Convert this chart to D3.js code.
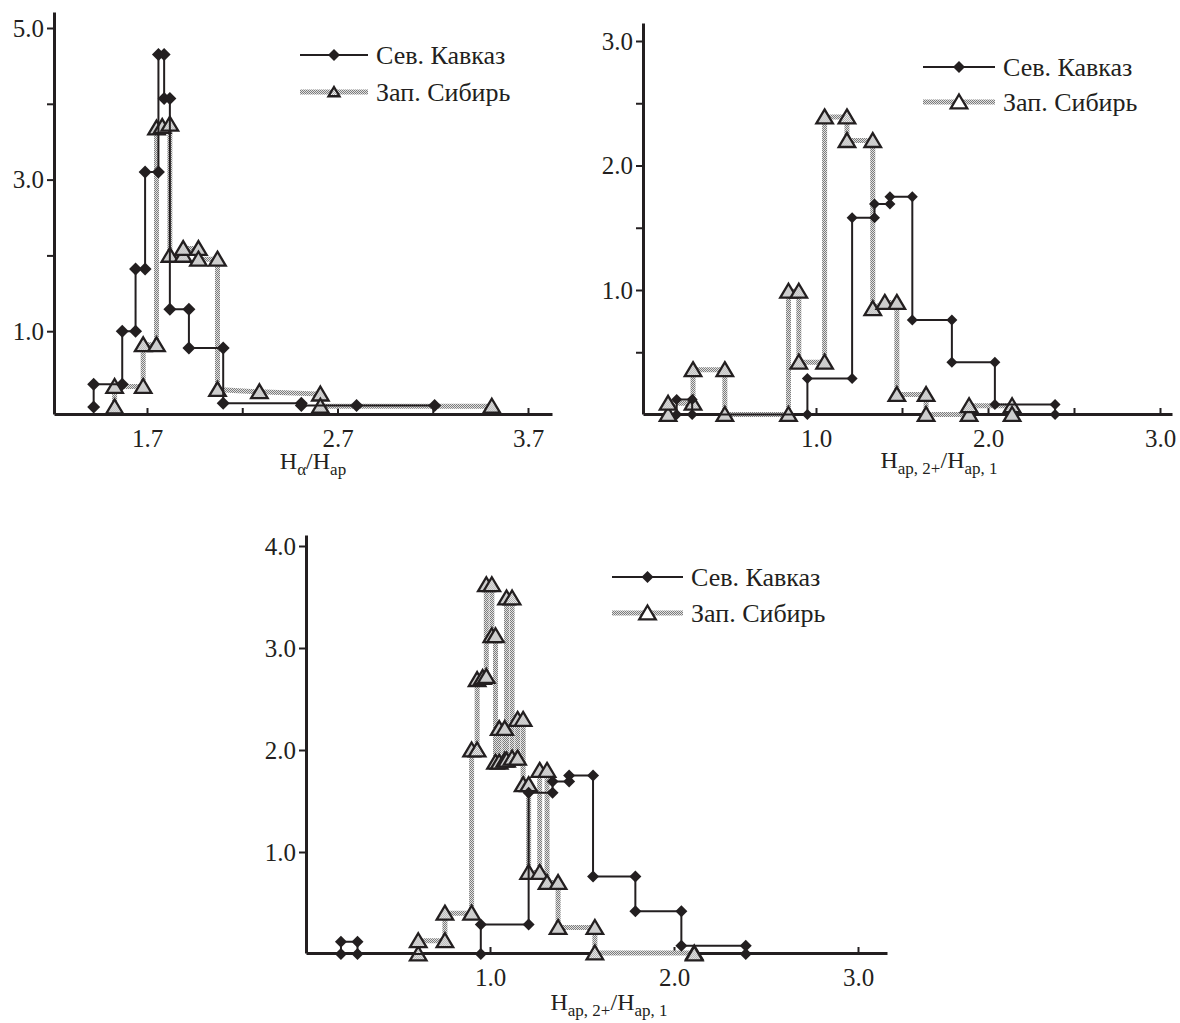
<!DOCTYPE html>
<html>
<head>
<meta charset="utf-8">
<script src="https://cdn.jsdelivr.net/npm/d3@7"></script>
<style>
    body { margin: 0; background: #ffffff; }
    text { font-family: "Liberation Serif", "DejaVu Serif", serif; fill: #231f20; }
</style>
</head>
<body>
<div class="AppBody"></div>
<script>

const series_names = ["Сев. Кавказ", "Зап. Сибирь"];

// panel 1: H_alpha / H_ap
const kavkaz_alpha_x = [1.42, 1.42, 1.57, 1.57, 1.64, 1.64, 1.69, 1.69, 1.76, 1.76, 1.79, 1.79, 1.82, 1.82,
    1.92, 1.92, 2.10, 2.10, 2.51, 2.51, 2.80, 3.21];
const kavkaz_alpha_y = [0, 0.30, 0.30, 1.0, 1.0, 1.82, 1.82, 3.10, 3.10, 4.65, 4.65, 4.07, 4.07, 1.29,
    1.29, 0.78, 0.78, 0.05, 0.05, 0.02, 0.02, 0.02];
const sibir_alpha_x = [1.53, 1.53, 1.68, 1.68, 1.75, 1.75, 1.78, 1.82, 1.82, 1.89, 1.89, 1.97, 1.97,
    2.07, 2.07, 2.29, 2.61, 2.61, 3.51];
const sibir_alpha_y = [0, 0.27, 0.27, 0.82, 0.82, 3.68, 3.70, 3.73, 2.0, 2.0, 2.09, 2.09, 1.95,
    1.95, 0.23, 0.20, 0.17, 0.01, 0.01];

// panels 2 and 3: H_ap,2+ / H_ap,1 (same Kavkaz series in both)
const kavkaz_ratio_x = [0.19, 0.19, 0.28, 0.28, 0.95, 0.95, 1.21, 1.21, 1.34, 1.34, 1.43, 1.43, 1.56, 1.56,
    1.79, 1.79, 2.04, 2.04, 2.39, 2.39];
const kavkaz_ratio_y = [0, 0.12, 0.12, 0, 0, 0.29, 0.29, 1.58, 1.58, 1.69, 1.69, 1.75, 1.75, 0.76,
    0.76, 0.42, 0.42, 0.08, 0.08, 0];

const sibir_ratio_x = [0.14, 0.14, 0.285, 0.285, 0.47, 0.47, 0.84, 0.84, 0.90, 0.90, 1.05, 1.05, 1.18, 1.18,
    1.33, 1.33, 1.40, 1.47, 1.47, 1.64, 1.64, 1.89, 1.89, 2.14, 2.14];
const sibir_ratio_y = [0, 0.09, 0.09, 0.36, 0.36, 0, 0, 0.99, 0.99, 0.42, 0.42, 2.39, 2.39, 2.20,
    2.20, 0.85, 0.90, 0.90, 0.16, 0.16, 0, 0, 0.07, 0.07, 0];

const sibir_wide_x = [0.61, 0.61, 0.755, 0.755, 0.90, 0.90, 0.93, 0.93, 0.96, 0.98, 0.98, 1.01, 1.01, 1.03,
    1.03, 1.05, 1.05, 1.08, 1.08, 1.09, 1.09, 1.12, 1.12, 1.15, 1.15, 1.18, 1.18, 1.21, 1.21, 1.27,
    1.27, 1.31, 1.31, 1.37, 1.37, 1.57, 1.57, 2.11, 2.11];
const sibir_wide_y = [0, 0.13, 0.13, 0.40, 0.40, 2.0, 2.0, 2.69, 2.71, 2.72, 3.62, 3.62, 3.12, 3.12,
    1.88, 1.88, 2.21, 2.21, 1.90, 1.90, 3.49, 3.49, 1.92, 1.92, 2.30, 2.30, 1.66, 1.66, 0.80, 0.80,
    1.80, 1.80, 0.70, 0.70, 0.26, 0.26, 0.01, 0.01, 0];

const zip_points = (xs, ys) => xs.map((x, i) => ({x: x, y: ys[i]}));

const panels = [
    {
        kavkaz: zip_points(kavkaz_alpha_x, kavkaz_alpha_y),
        sibir: zip_points(sibir_alpha_x, sibir_alpha_y),
        x_anchor: [[1.7, 3.7], [147, 528]], x_extent: [54, 552],
        y_anchor: [[0, 5], [407, 28]], y_extent: [414, 12],
        x_major: [1.7, 2.7, 3.7], x_minor: [2.2, 3.2],
        y_major: [1, 3, 5], y_minor: [2, 4],
        legend: {x1: 300, x2: 368, y: 55, dy: 37, small: true},
        title: {x: 313, y: 469, sub1: "α", sub2: "ap"},
        diamond: 6.5
    },
    {
        kavkaz: zip_points(kavkaz_ratio_x, kavkaz_ratio_y),
        sibir: zip_points(sibir_ratio_x, sibir_ratio_y),
        x_anchor: [[1, 3], [816, 1160]], x_extent: [643, 1172],
        y_anchor: [[0, 3], [414.5, 41]], y_extent: [414, 23],
        x_major: [1, 2, 3], x_minor: [1.5, 2.5],
        y_major: [1, 2, 3], y_minor: [0.5, 1.5, 2.5],
        legend: {x1: 923, x2: 995, y: 67, dy: 35, small: false},
        title: {x: 939, y: 468, sub1: "ap, 2+", sub2: "ap, 1"},
        diamond: 5.5
    },
    {
        kavkaz: zip_points(kavkaz_ratio_x, kavkaz_ratio_y),
        sibir: zip_points(sibir_wide_x, sibir_wide_y),
        x_anchor: [[1, 3], [490, 858]], x_extent: [306, 887],
        y_anchor: [[0, 4], [954, 546]], y_extent: [953, 535],
        x_major: [1, 2, 3], x_minor: [],
        y_major: [1, 2, 3, 4], y_minor: [],
        legend: {x1: 612, x2: 683, y: 577, dy: 36, small: false},
        title: {x: 609, y: 1010, sub1: "ap, 2+", sub2: "ap, 1"},
        diamond: 6
    }
];

const svg = d3.select(".AppBody")
    .append("svg")
    .attr("width", 1180)
    .attr("height", 1023)
    .style("display", "block");

svg.append("rect").attr("width", 1180).attr("height", 1023).attr("fill", "#ffffff");

// halftone greys used by the Siberia series (line and lighter marker fill)
const defs = svg.append("defs");
const add_halftone = function (id, light, dark) {
    const pattern = defs.append("pattern")
        .attr("id", id)
        .attr("width", 2)
        .attr("height", 2)
        .attr("patternUnits", "userSpaceOnUse");
    pattern.append("rect").attr("width", 2).attr("height", 2).attr("fill", light);
    pattern.append("rect").attr("width", 1).attr("height", 1).attr("fill", dark);
    pattern.append("rect").attr("x", 1).attr("y", 1).attr("width", 1).attr("height", 1).attr("fill", dark);
};
add_halftone("halftone", "#e2e2e2", "#7c7c7c");
add_halftone("halftone_light", "#f2f2f2", "#a8a8a8");

const diamond_path = s => `M0,${-s}L${s},0L0,${s}L${-s},0Z`;
const triangle_path = s => `M0,${-s}L${s * 1.1},${s * 0.85}L${-s * 1.1},${s * 0.85}Z`;

// build a linear scale from two anchor values, then stretch it to the drawn axis length
const make_scale = function (anchor, extent) {
    const scale = d3.scaleLinear().domain(anchor[0]).range(anchor[1]);
    return scale.domain([scale.invert(extent[0]), scale.invert(extent[1])]).range(extent);
};

const draw_panel = function (panel) {

    const x = make_scale(panel.x_anchor, panel.x_extent);
    const y = make_scale(panel.y_anchor, panel.y_extent);
    const g = svg.append("g");
    const fmt = d3.format(".1f");

    // x axis, ticks pointing up into the plot
    const x_axis = g.append("g")
        .attr("transform", `translate(0, ${panel.y_extent[0]})`)
        .call(d3.axisBottom(x)
            .tickValues(panel.x_major.concat(panel.x_minor))
            .tickSize(-6)
            .tickSizeOuter(0)
            .tickPadding(15)
            .tickFormat(d => panel.x_major.includes(d) ? fmt(d) : ""));

    const y_axis = g.append("g")
        .attr("transform", `translate(${panel.x_extent[0]}, 0)`)
        .call(d3.axisLeft(y)
            .tickValues(panel.y_major.concat(panel.y_minor))
            .tickSize(7)
            .tickSizeOuter(0)
            .tickPadding(3)
            .tickFormat(d => panel.y_major.includes(d) ? fmt(d) : ""));

    [x_axis, y_axis].forEach(axis => {
        axis.attr("font-family", null);
        axis.select(".domain").attr("stroke", "#231f20").attr("stroke-width", 3);
        axis.selectAll(".tick line").attr("stroke", "#231f20").attr("stroke-width", 2);
        axis.selectAll(".tick text")
            .style("font-family", "'Liberation Serif', 'DejaVu Serif', serif")
            .style("font-size", "25px")
            .attr("fill", "#231f20");
    });

    const line = d3.line().x(d => x(d.x)).y(d => y(d.y));

    // Siberia: halftone step line with triangles
    g.append("path")
        .datum(panel.sibir)
        .attr("d", line)
        .attr("fill", "none")
        .attr("stroke", "url(#halftone)")
        .attr("stroke-width", 5);
    g.append("g")
        .selectAll("path")
        .data(panel.sibir)
        .join("path")
        .attr("d", triangle_path(7.5))
        .attr("transform", d => `translate(${x(d.x)}, ${y(d.y)})`)
        .attr("fill", "url(#halftone_light)")
        .attr("stroke", "#231f20")
        .attr("stroke-width", 2.3);

    // Kavkaz: black step line with diamonds
    g.append("path")
        .datum(panel.kavkaz)
        .attr("d", line)
        .attr("fill", "none")
        .attr("stroke", "#231f20")
        .attr("stroke-width", 2);
    g.append("g")
        .selectAll("path")
        .data(panel.kavkaz)
        .join("path")
        .attr("d", diamond_path(panel.diamond))
        .attr("transform", d => `translate(${x(d.x)}, ${y(d.y)})`)
        .attr("fill", "#231f20");

    // legend
    const lg = panel.legend;
    const mid = (lg.x1 + lg.x2) / 2;
    const legend = g.append("g");
    legend.append("line")
        .attr("x1", lg.x1).attr("x2", lg.x2).attr("y1", lg.y).attr("y2", lg.y)
        .attr("stroke", "#231f20").attr("stroke-width", 2);
    legend.append("path")
        .attr("d", diamond_path(6))
        .attr("transform", `translate(${mid}, ${lg.y})`)
        .attr("fill", "#231f20");
    legend.append("line")
        .attr("x1", lg.x1).attr("x2", lg.x2).attr("y1", lg.y + lg.dy).attr("y2", lg.y + lg.dy)
        .attr("stroke", "url(#halftone)").attr("stroke-width", 5);
    legend.append("path")
        .attr("d", triangle_path(lg.small ? 5 : 7.5))
        .attr("transform", `translate(${mid}, ${lg.y + lg.dy})`)
        .attr("fill", lg.small ? "url(#halftone_light)" : "#ffffff")
        .attr("stroke", "#231f20")
        .attr("stroke-width", 2.3);
    legend.selectAll("text")
        .data(series_names)
        .join("text")
        .attr("x", lg.x2 + 8)
        .attr("y", (d, i) => lg.y + i * lg.dy)
        .attr("dy", "0.36em")
        .style("font-size", "26px")
        .text(d => d);

    // axis title with subscripts
    const t = panel.title;
    const title = g.append("text")
        .attr("x", t.x)
        .attr("y", t.y)
        .attr("text-anchor", "middle")
        .style("font-size", "24px");
    title.append("tspan").text("H");
    title.append("tspan").attr("dy", 6).style("font-size", "17px").text(t.sub1);
    title.append("tspan").attr("dy", -6).text("/H");
    title.append("tspan").attr("dy", 6).style("font-size", "17px").text(t.sub2);
};

panels.forEach(draw_panel);

</script>
</body>
</html>
